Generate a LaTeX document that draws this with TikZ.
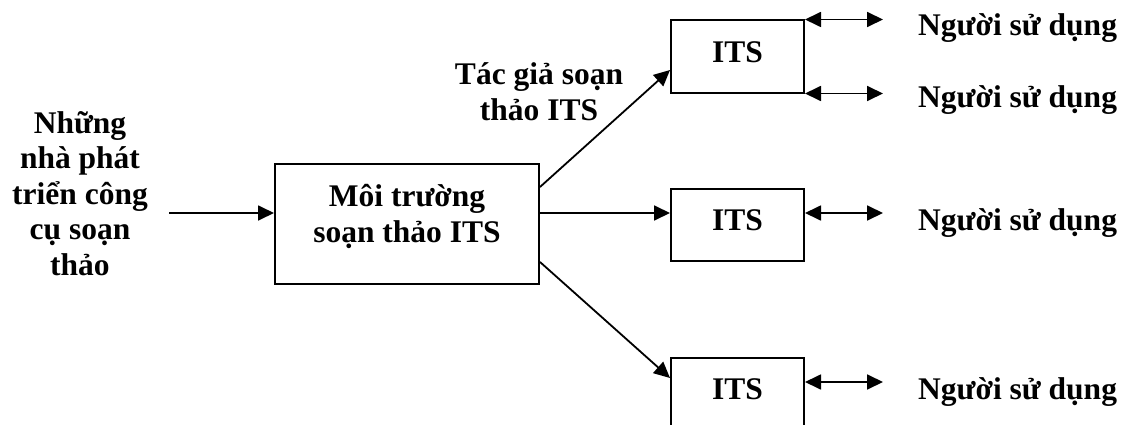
\documentclass[tikz,border=0pt]{standalone}
\usepackage{fontspec}
\setmainfont{Liberation Serif}
\usetikzlibrary{arrows.meta}
\begin{document}
\begin{tikzpicture}[x=1pt,y=1pt,
  lbl/.style={font=\fontsize{31.5}{35.5}\selectfont\bfseries, inner sep=0pt, align=center, anchor=base},
  box/.style={draw, line width=2pt, inner sep=0pt},
  itsbox/.style={box, minimum width=133, minimum height=72},
  tip/.tip={Triangle[length=16pt,width=15pt]},
  flow/.style={line width=1.8pt, -tip},
  talk/.style={line width=1.8pt, tip-tip}]
\clip (0,0) rectangle (1123,424);

% boxes
\node[box, minimum width=264, minimum height=120] (env) at (407,200) {};
\node[itsbox] (its1) at (737.5,367.5) {};
\node[itsbox] (its2) at (737.5,199.5) {};
\node[itsbox] (its3) at (737.5,30.5) {};

% box captions (base = baseline of the last line)
\node[lbl] (envtxt) at (407,182) {Môi trường\\soạn thảo ITS};
\node[lbl] (its1txt) at (737.5,361) {ITS};
\node[lbl] (its2txt) at (737.5,194) {ITS};
\node[lbl] (its3txt) at (737.5,25) {ITS};

% free texts
\node[lbl] (dev) at (80,149) {Những\\nhà phát\\triển công\\cụ soạn\\thảo};
\node[lbl] (author) at (539,304) {Tác giả soạn\\thảo ITS};
\node[lbl, anchor=base west] (u1) at (918,388) {Người sử dụng};
\node[lbl, anchor=base west] (u2) at (918,317) {Người sử dụng};
\node[lbl, anchor=base west] (u3) at (918,194) {Người sử dụng};
\node[lbl, anchor=base west] (u4) at (918,25) {Người sử dụng};

% input from the tool developers
\coordinate (in) at (169,211);
\draw[flow] (in) -- (in -| env.west);

% environment to the generated systems
\draw[flow] ([yshift=37pt]env.east) -- ([yshift=-13.5pt]its1.west);
\draw[flow] ([yshift=11pt]env.east) -- ([yshift=11.5pt]its2.west);
\draw[flow] ([yshift=-38pt]env.east) -- ([yshift=15.5pt]its3.west);

% interaction with users
\draw[talk] (its1.north east) -- ([xshift=78pt]its1.north east);
\draw[talk] (its1.south east) -- ([xshift=78pt]its1.south east);
\draw[talk] ([yshift=11.5pt]its2.east) -- ([xshift=78pt,yshift=11.5pt]its2.east);
\draw[talk] ([yshift=11.5pt]its3.east) -- ([xshift=78pt,yshift=11.5pt]its3.east);
\end{tikzpicture}
\end{document}
